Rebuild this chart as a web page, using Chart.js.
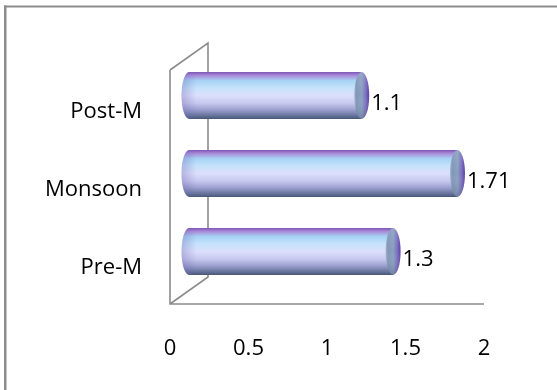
<!DOCTYPE html>
<html>
<head>
<meta charset="utf-8">
<script src="https://cdn.jsdelivr.net/npm/chart.js@4"></script>
<style>
  html, body { margin: 0; padding: 0; background: #ffffff; }
  canvas { display: block; }
</style>
</head>
<body>
<canvas id="chart" width="557" height="390"></canvas>
<script>
// Seasons (top to bottom) and their values
const seasons = ['Post-M', 'Monsoon', 'Pre-M'];
const values = [1.1, 1.71, 1.3];

// Value axis
const axisMin = 0;
const axisMax = 2;
const axisStep = 0.5;
const tickLabels = ['0', '0.5', '1', '1.5', '2'];

const FONT_FAMILY = "'Open Sans', 'DejaVu Sans', sans-serif";
const FONT_SIZE = 22;
const DEPTH_X = 38;   // horizontal depth of the 3-D box
const DEPTH_Y = 27;   // vertical depth of the 3-D box
const CAP_RX = 7.5;   // horizontal radius of the cylinder ends
const FRAME = '#8c8c8c';

function bodyGradient(ctx, top, bottom) {
  const g = ctx.createLinearGradient(0, top, 0, bottom);
  g.addColorStop(0.00, '#7f56b8');
  g.addColorStop(0.07, '#a98ad8');
  g.addColorStop(0.18, '#a6d2f4');
  g.addColorStop(0.34, '#c6e2fb');
  g.addColorStop(0.50, '#dcdffb');
  g.addColorStop(0.66, '#c8c9ef');
  g.addColorStop(0.80, '#9da1d0');
  g.addColorStop(0.92, '#6b77a0');
  g.addColorStop(1.00, '#4a5877');
  return g;
}

// Outer frame of the figure (top and left edges)
const figureFrame = {
  id: 'figureFrame',
  beforeDraw(chart) {
    const ctx = chart.ctx;
    ctx.save();
    ctx.fillStyle = '#ffffff';
    ctx.fillRect(0, 0, chart.width, chart.height);
    ctx.fillStyle = FRAME;
    ctx.fillRect(4, 5.5, chart.width - 4, 2);
    ctx.fillRect(4, 5.5, 2.5, chart.height - 5.5);
    ctx.restore();
  }
};

// 3-D walls and floor edge
const box3d = {
  id: 'box3d',
  beforeDatasetsDraw(chart) {
    const { ctx, chartArea: a } = chart;
    ctx.save();
    ctx.strokeStyle = FRAME;
    ctx.lineWidth = 1.6;
    ctx.beginPath();
    // left (front) wall edge
    ctx.moveTo(a.left, a.top);
    ctx.lineTo(a.left, a.bottom);
    // floor front edge
    ctx.lineTo(a.right, a.bottom);
    // bottom diagonal
    ctx.moveTo(a.left, a.bottom);
    ctx.lineTo(a.left + DEPTH_X, a.bottom - DEPTH_Y);
    // back wall edge
    ctx.lineTo(a.left + DEPTH_X, a.top - DEPTH_Y);
    // top diagonal
    ctx.lineTo(a.left, a.top);
    ctx.stroke();
    ctx.restore();
  }
};

// Cylinders and value labels, placed at mid depth of the box
const cylinders = {
  id: 'cylinders',
  afterDatasetsDraw(chart) {
    const ctx = chart.ctx;
    const meta = chart.getDatasetMeta(0);
    const mx = DEPTH_X / 2, my = DEPTH_Y / 2;
    meta.data.forEach((bar, i) => {
      const p = bar.getProps(['x', 'y', 'base', 'height'], true);
      const x0 = p.base + mx;
      const x1 = p.x + mx;
      const yc = p.y - my;
      const ry = p.height / 2;
      const top = yc - ry, bottom = yc + ry;

      ctx.save();
      // body with rounded left end
      ctx.beginPath();
      ctx.moveTo(x0, top);
      ctx.lineTo(x1, top);
      ctx.lineTo(x1, bottom);
      ctx.lineTo(x0, bottom);
      ctx.ellipse(x0, yc, CAP_RX, ry, 0, Math.PI / 2, Math.PI * 1.5);
      ctx.closePath();
      ctx.fillStyle = bodyGradient(ctx, top, bottom);
      ctx.fill();

      // shading on the rounded left end
      const lg = ctx.createLinearGradient(x0 - CAP_RX, 0, x0 + CAP_RX, 0);
      lg.addColorStop(0, 'rgba(110,100,180,0.35)');
      lg.addColorStop(1, 'rgba(110,100,180,0)');
      ctx.fillStyle = lg;
      ctx.fill();

      // right end cap
      ctx.beginPath();
      ctx.ellipse(x1, yc, CAP_RX, ry, 0, 0, Math.PI * 2);
      const cg = ctx.createLinearGradient(x1 - CAP_RX, 0, x1 + CAP_RX, 0);
      cg.addColorStop(0.00, '#a6b6d0');
      cg.addColorStop(0.15, '#7f96b6');
      cg.addColorStop(0.50, '#8aa0c0');
      cg.addColorStop(0.75, '#7c74c0');
      cg.addColorStop(1.00, '#5c3ea6');
      ctx.fillStyle = cg;
      ctx.fill();
      const vg = ctx.createLinearGradient(0, top, 0, bottom);
      vg.addColorStop(0, 'rgba(255,255,255,0.10)');
      vg.addColorStop(0.5, 'rgba(255,255,255,0)');
      vg.addColorStop(1, 'rgba(30,40,70,0.25)');
      ctx.fillStyle = vg;
      ctx.fill();

      // value label
      ctx.fillStyle = '#000000';
      ctx.font = FONT_SIZE + 'px ' + FONT_FAMILY;
      ctx.textAlign = 'left';
      ctx.textBaseline = 'middle';
      ctx.fillText(String(values[i]), x1 + CAP_RX + 2, yc + 8);
      ctx.restore();
    });
  }
};

new Chart(document.getElementById('chart'), {
  type: 'bar',
  data: {
    labels: seasons,
    datasets: [{
      data: values,
      backgroundColor: 'rgba(0,0,0,0)',
      borderWidth: 0,
      barPercentage: 0.6,
      categoryPercentage: 1.0
    }]
  },
  options: {
    indexAxis: 'y',
    responsive: false,
    animation: false,
    events: [],
    layout: { padding: { top: 70, right: 73, bottom: 0, left: 0 } },
    plugins: {
      legend: { display: false },
      tooltip: { enabled: false },
      title: { display: false }
    },
    scales: {
      x: {
        min: axisMin,
        max: axisMax,
        grid: { display: false, drawTicks: false },
        border: { display: false },
        ticks: {
          stepSize: axisStep,
          padding: 32,
          color: '#000000',
          font: { family: FONT_FAMILY, size: FONT_SIZE },
          maxRotation: 0,
          callback: (value, index) => tickLabels[index]
        },
        afterFit(scale) { scale.height = 86; }
      },
      y: {
        grid: { display: false, drawTicks: false },
        border: { display: false },
        ticks: {
          padding: 28,
          labelOffset: 3,
          color: '#000000',
          font: { family: FONT_FAMILY, size: FONT_SIZE }
        },
        afterFit(scale) { scale.width = 170; }
      }
    }
  },
  plugins: [figureFrame, box3d, cylinders]
});
</script>
</body>
</html>
